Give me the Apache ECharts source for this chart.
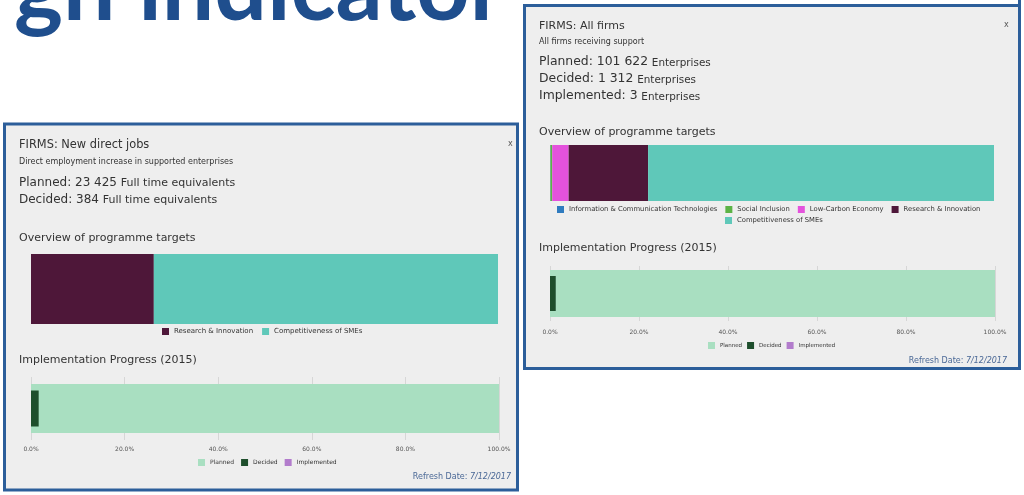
<!DOCTYPE html>
<html>
<head>
<meta charset="utf-8">
<script src="https://cdn.jsdelivr.net/npm/echarts@6.0.0/dist/echarts.min.js"></script>
<style>
  html, body { margin: 0; padding: 0; background: #fff; }
  #chart { width: 1024px; height: 495px; }
</style>
</head>
<body>
<div id="chart"></div>
<script>
  // programme target shares (%)
  const ovLeftNames = ['Research & Innovation', 'Competitiveness of SMEs'];
  const ovLeftValues = [26.3, 73.7];
  const ovRightNames = ['Information & Communication Technologies', 'Social Inclusion',
    'Low-Carbon Economy', 'Research & Innovation', 'Competitiveness of SMEs'];
  const ovRightValues = [0.1, 0.4, 3.7, 17.9, 77.9];

  // implementation progress (% of planned)
  const progNames = ['Planned', 'Decided', 'Implemented'];
  const progLeftValues = [100, 1.64, 0];
  const progRightValues = [100, 1.29, 0.003];
  const progTicks = [0, 20, 40, 60, 80, 100];

  const colors = {
    'Information & Communication Technologies': '#2f7bbf',
    'Social Inclusion': '#5cb346',
    'Low-Carbon Economy': '#e452dc',
    'Research & Innovation': '#4e1739',
    'Competitiveness of SMEs': '#5fc8b9',
    'Planned': '#a9dfc1',
    'Decided': '#1e4e2c',
    'Implemented': '#b27ccc'
  };

  const FONT = 'DejaVu Sans';
  const txt = '#333';

  const chart = echarts.init(document.getElementById('chart'));

  function overview(names, values, xIdx, yIdx, h) {
    return names.map((n, i) => ({
      type: 'bar', name: n, stack: 'ov' + xIdx, silent: true,
      xAxisIndex: xIdx, yAxisIndex: yIdx,
      barWidth: h, data: [values[i]],
      itemStyle: { color: colors[n] }
    }));
  }

  function progress(values, xIdx, yOuter, yInner, wOuter, wInner) {
    return [
      { type: 'bar', name: progNames[0], silent: true, xAxisIndex: xIdx, yAxisIndex: yOuter,
        barWidth: wOuter, data: [values[0]], itemStyle: { color: colors.Planned } },
      { type: 'bar', name: progNames[1], stack: 'p' + xIdx, silent: true, xAxisIndex: xIdx, yAxisIndex: yInner,
        barWidth: wInner, data: [values[1]], itemStyle: { color: colors.Decided } },
      { type: 'bar', name: progNames[2], stack: 'p' + xIdx, silent: true, xAxisIndex: xIdx, yAxisIndex: yInner,
        barWidth: wInner, data: [values[2]], itemStyle: { color: colors.Implemented } }
    ];
  }

  function hiddenX(grid) {
    return { type: 'value', gridIndex: grid, min: 0, max: 100, show: false };
  }
  function progX(grid, margin) {
    return {
      type: 'value', gridIndex: grid, min: progTicks[0], max: progTicks[progTicks.length - 1], interval: 20,
      axisLine: { show: false }, axisTick: { show: false },
      splitLine: { show: true, lineStyle: { color: '#d6d6d6', width: 1 } },
      axisLabel: { margin: margin, fontSize: 6, color: '#555', fontFamily: FONT,
        formatter: v => v.toFixed(1) + '%' }
    };
  }
  function cat(grid) {
    return { type: 'category', gridIndex: grid, data: [''], show: false };
  }

  function legend(left, top, names, size, gap) {
    return {
      left: left, top: top, data: names,
      icon: 'rect', itemWidth: 7, itemHeight: 7, itemGap: gap, padding: 0,
      selectedMode: false, orient: 'horizontal',
      textStyle: { fontSize: size, color: txt, fontFamily: FONT }
    };
  }

  function t(x, y, text, size, fill) {
    return {
      type: 'text', x: x, y: y,
      style: { text: text, fontSize: size, fontFamily: FONT, fill: fill || txt, verticalAlign: 'middle' }
    };
  }
  function amount(x, y, big, small, s1, s2) {
    return {
      type: 'text', x: x, y: y,
      style: {
        text: '{a|' + big + '} {b|' + small + '}', fontFamily: FONT, verticalAlign: 'middle',
        rich: {
          a: { fontSize: s1, fontFamily: FONT, fill: txt, verticalAlign: 'bottom' },
          b: { fontSize: s2, fontFamily: FONT, fill: txt, verticalAlign: 'bottom' }
        }
      }
    };
  }
  function refresh(x, y) {
    return {
      type: 'text', x: x, y: y,
      style: { text: 'Refresh Date: {i|7/12/2017}', fontSize: 8, fontFamily: FONT, fill: '#4a6896',
        align: 'right', verticalAlign: 'middle',
        rich: { i: { fontSize: 8, fontFamily: FONT, fontStyle: 'italic', fill: '#4a6896' } } }
    };
  }

  const panel = { fill: '#eeeeee', stroke: '#2c5e9a', lineWidth: 3 };

  const option = {
    backgroundColor: '#ffffff',
    animation: false,
    grid: [
      { left: 31, top: 254, width: 467, height: 70 },
      { left: 31, top: 377, width: 468, height: 63 },
      { left: 550, top: 145, width: 444, height: 56 },
      { left: 550, top: 266, width: 445, height: 55 }
    ],
    xAxis: [hiddenX(0), progX(1, 6), hiddenX(2), progX(3, 8)],
    yAxis: [cat(0), cat(1), cat(1), cat(2), cat(3), cat(3)],
    legend: [
      legend(162, 328, ovLeftNames, 7, 9),
      legend(198, 459, progNames, 6, 7),
      legend(557, 206, ovRightNames.slice(0, 4), 6.8, 8),
      legend(725, 217, ovRightNames.slice(4), 6.8, 8),
      legend(708, 342, progNames, 5.5, 5)
    ],
    series: [].concat(
      overview(ovLeftNames, ovLeftValues, 0, 0, 70),
      progress(progLeftValues, 1, 1, 2, 49, 36),
      overview(ovRightNames, ovRightValues, 2, 3, 56),
      progress(progRightValues, 3, 4, 5, 47, 35)
    ),
    graphic: [
      // slide heading, cut off at the top
      { type: 'text', x: 14, y: -10, z: 1,
        style: { text: 'gn indicator', font: 'bold 93px Lato', fill: '#1f4e8d', verticalAlign: 'middle' } },
      { type: 'rect', z: -10, shape: { x: 1018, y: 0, width: 3, height: 5 }, style: { fill: '#2c5e9a' } },

      // left panel
      { type: 'rect', z: -10, shape: { x: 4.5, y: 124, width: 513, height: 366 }, style: panel },
      t(19, 145, 'FIRMS: New direct jobs', 11.4),
      t(508, 144, 'x', 8, '#555'),
      t(19, 162, 'Direct employment increase in supported enterprises', 8),
      amount(19, 183, 'Planned: 23 425', 'Full time equivalents', 12, 11),
      amount(19, 200, 'Decided: 384', 'Full time equivalents', 12, 11),
      t(19, 238, 'Overview of programme targets', 11),
      t(19, 360, 'Implementation Progress (2015)', 11),
      refresh(511, 477),

      // right panel
      { type: 'rect', z: -10, shape: { x: 524.5, y: 5.5, width: 495, height: 363 }, style: panel },
      t(539, 26, 'FIRMS: All firms', 11),
      t(1004, 25, 'x', 8, '#555'),
      t(539, 42, 'All firms receiving support', 8),
      amount(539, 62, 'Planned: 101 622', 'Enterprises', 12.4, 10.4),
      amount(539, 79, 'Decided: 1 312', 'Enterprises', 12.4, 10.4),
      amount(539, 96, 'Implemented: 3', 'Enterprises', 12.4, 10.4),
      t(539, 132, 'Overview of programme targets', 11),
      t(539, 248, 'Implementation Progress (2015)', 11),
      refresh(1007, 361)
    ]
  };

  chart.setOption(option);
</script>
</body>
</html>
